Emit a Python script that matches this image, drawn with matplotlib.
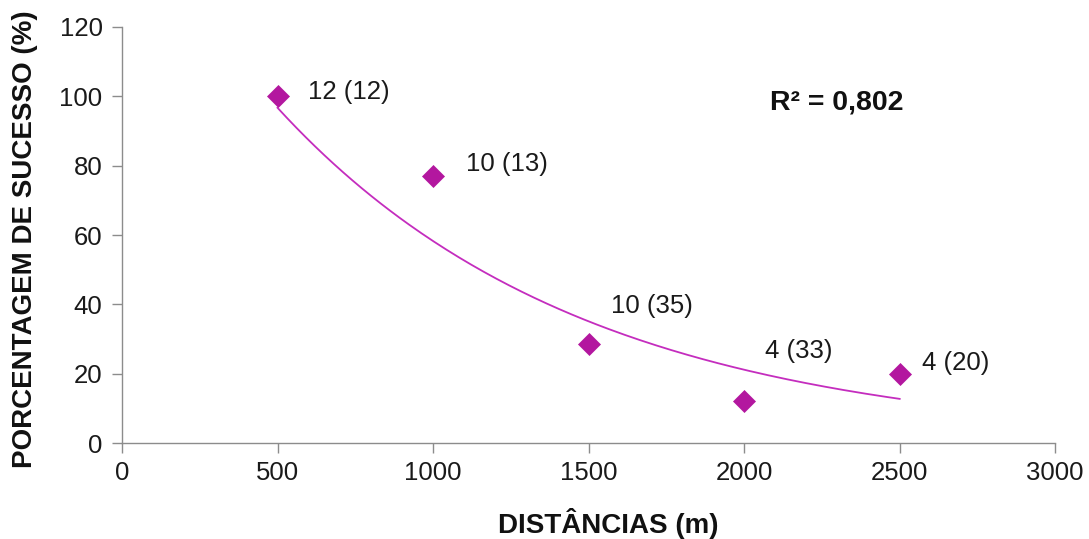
import numpy as np
import matplotlib
matplotlib.use("Agg")
import matplotlib.pyplot as plt

plt.rcParams['font.family'] = ['Liberation Sans', 'DejaVu Sans']

# Distance classes (m), success rate (%), and counts "successes (trials)"
distances = [500, 1000, 1500, 2000, 2500]
successes = [12, 10, 10, 4, 4]
trials = [12, 13, 35, 33, 20]
success_pct = [100 * s / t for s, t in zip(successes, trials)]
point_labels = [f"{s} ({t})" for s, t in zip(successes, trials)]
r2_text = "R² = 0,802"

x_ticks = [0, 500, 1000, 1500, 2000, 2500, 3000]
y_ticks = [0, 20, 40, 60, 80, 100, 120]

purple = "#B3179F"
trend_color = "#C42DBE"
spine_gray = "#8C8C8C"

fig = plt.figure(figsize=(10.89, 5.39), dpi=100)
ax = fig.add_axes([0.112, 0.178, 0.857, 0.772])

# Exponential trend line fitted on log(y)
xd = np.array(distances, dtype=float)
yd = np.array(success_pct)
b, a = np.polyfit(xd, np.log(yd), 1)
xs = np.linspace(xd.min(), xd.max(), 200)
ax.plot(xs, np.exp(a + b * xs), color=trend_color, lw=1.3, zorder=2)

ax.plot(distances, success_pct, linestyle="none", marker="D", markersize=11.5,
        markerfacecolor=purple, markeredgecolor=purple, markeredgewidth=0.5, zorder=3)

# label offsets (points) to the right of / above each marker
offsets = [(22, 3), (24, 9), (16, 27), (15, 36), (16, 8)]
for x, y, lab, off in zip(distances, success_pct, point_labels, offsets):
    ax.annotate(lab, (x, y), xytext=off, textcoords="offset points",
                ha="left", va="center", fontsize=18.5, color="#1a1a1a")

ax.text(2084, 98.1, r2_text, ha="left", va="center", fontsize=20.5,
        fontweight="bold", color="#111111")

ax.set_xlim(0, 3000)
ax.set_ylim(0, 120)
ax.set_xticks(x_ticks)
ax.set_yticks(y_ticks)

for side in ("top", "right"):
    ax.spines[side].set_visible(False)
for side in ("left", "bottom"):
    ax.spines[side].set_color(spine_gray)
    ax.spines[side].set_linewidth(1.0)

ax.tick_params(axis="both", direction="out", color=spine_gray, width=1.0,
               length=7, labelsize=18.5, labelcolor="#1a1a1a")
ax.tick_params(axis="x", pad=6)
ax.tick_params(axis="y", pad=7)

ax.set_xlabel("DISTÂNCIAS (m)", fontsize=20, fontweight="bold", color="#111111",
              va="baseline")
ax.xaxis.set_label_coords(0.521, -0.216)
ax.set_ylabel("PORCENTAGEM DE SUCESSO (%)", fontsize=20, fontweight="bold",
              color="#111111")
ax.yaxis.set_label_coords(-0.0905, 0.49)

fig.savefig("out.png", dpi=100)
